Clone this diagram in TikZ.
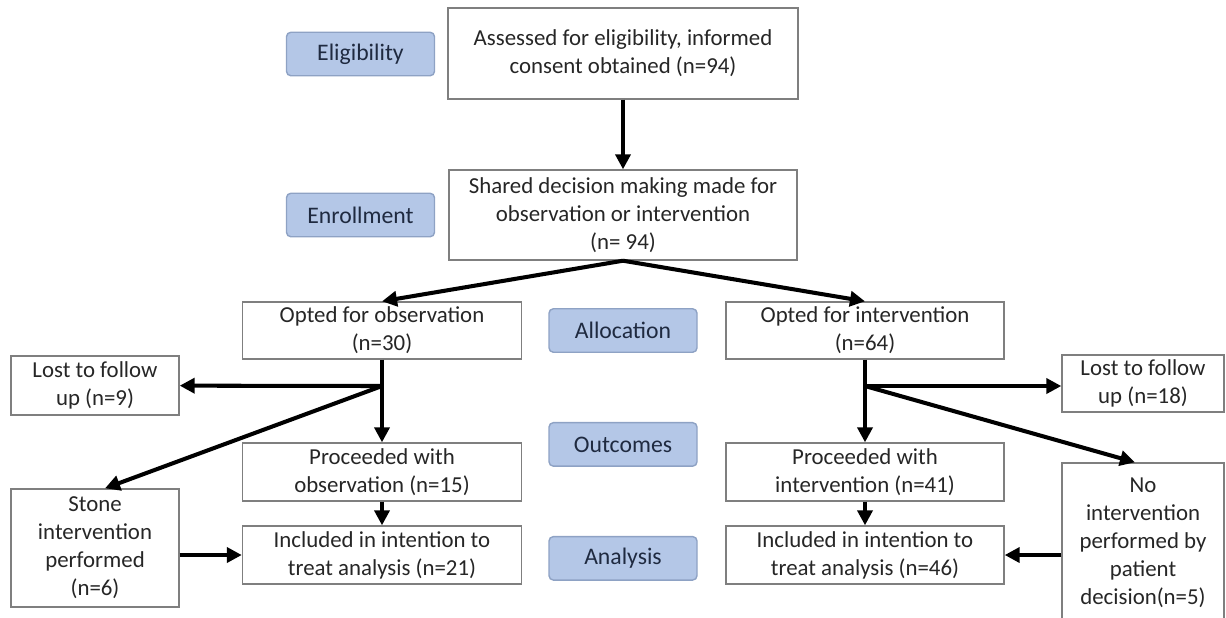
\documentclass[tikz,border=0pt]{standalone}
\usepackage{fontspec}
\setmainfont{Carlito}
\usepackage{xcolor}
\usepackage{tikz}
\usetikzlibrary{arrows.meta, calc, positioning}

\definecolor{stagefill}{HTML}{B4C7E7}
\definecolor{stageline}{HTML}{8EA2C4}
\definecolor{stagetext}{HTML}{1F2A40}
\definecolor{boxline}{HTML}{7F7F7F}

\begin{document}
\begin{tikzpicture}[>={Triangle[length=3mm,width=3mm]},
   box/.style={draw=boxline,line width=0.8pt,fill=white,align=center,inner sep=0pt,
     text=black!85,font=\fontsize{13}{15.9}\selectfont},
   stage/.style={draw=stageline,line width=0.8pt,fill=stagefill,rounded corners=2.5pt,
     minimum width=2.96cm,minimum height=0.87cm,inner sep=0pt,text=stagetext,
     font=\fontsize{13.5}{16}\selectfont},
   flow/.style={->,line width=2.3pt,black}]
  \useasboundingbox (0,0) rectangle (24.52,-12.34);
  % main column
  \node[box,minimum width=7.0cm,minimum height=1.82cm] (assess) at (12.46,-1.07)
    {Assessed for eligibility, informed\\consent obtained (n=94)};
  \node[box,minimum width=6.96cm,minimum height=1.8cm] (share) at (12.46,-4.30)
    {Shared decision making made for\\observation or intervention\\(n= 94)};
  % stage labels
  \node[stage] (elig) at (7.21,-1.08) {Eligibility};
  \node[stage] (enrol) at (7.21,-4.30) {Enrollment};
  \node[stage] (alloc) at (12.46,-6.61) {Allocation};
  \node[stage,below=1.38cm of alloc] (outc) {Outcomes};
  \node[stage,below=1.38cm of outc] (anal) {Analysis};
  % observation arm
  \node[box,minimum width=5.58cm,minimum height=1.14cm] (obs) at (7.64,-6.61)
    {Opted for observation\\(n=30)};
  \node[box,minimum width=5.58cm,minimum height=1.16cm] (procObs) at (7.64,-9.44)
    {Proceeded with\\observation (n=15)};
  \node[box,minimum width=5.58cm,minimum height=1.16cm] (inclObs) at (7.64,-11.10)
    {Included in intention to\\treat analysis (n=21)};
  \node[box,minimum width=3.36cm,minimum height=1.18cm] (lostL) at (1.90,-7.71)
    {Lost to follow\\up (n=9)};
  \node[box,minimum width=3.36cm,minimum height=2.36cm] (stone) at (1.90,-10.96)
    {Stone\\intervention\\performed\\(n=6)};
  % intervention arm
  \node[box,minimum width=5.56cm,minimum height=1.14cm] (int) at (17.30,-6.61)
    {Opted for intervention\\(n=64)};
  \node[box,minimum width=5.56cm,minimum height=1.16cm] (procInt) at (17.30,-9.44)
    {Proceeded with\\intervention (n=41)};
  \node[box,minimum width=5.56cm,minimum height=1.16cm] (inclInt) at (17.30,-11.10)
    {Included in intention to\\treat analysis (n=46)};
  \node[box,minimum width=3.24cm,minimum height=1.14cm] (lostR) at (22.86,-7.67)
    {Lost to follow\\up (n=18)};
  \node[box,minimum width=3.24cm,minimum height=3.2cm] (noint) at (22.86,-10.86)
    {No\\intervention\\performed by\\patient\\decision(n=5)};
  % branch points
  \coordinate (brL) at (obs.south |- 0,-7.72);
  \coordinate (brR) at (int.south |- 0,-7.72);
  % connectors
  \draw[flow] (assess) -- (share);
  \draw[flow] (share.south) -- (obs.north);
  \draw[flow] (share.south) -- (int.north);
  \draw[flow] (obs) -- (procObs);
  \draw[flow] (brL) -- (lostL);
  \draw[flow] (brL) -- ($(stone.north)+(0.2,0)$);
  \draw[flow] (procObs) -- (inclObs);
  \draw[flow] (stone.east |- inclObs) -- (inclObs);
  \draw[flow] (int) -- (procInt);
  \draw[flow] (brR) -- (brR -| lostR.west);
  \draw[flow] (brR) -- ($(noint.north)+(-0.16,0)$);
  \draw[flow] (procInt) -- (inclInt);
  \draw[flow] (noint.west |- inclInt) -- (inclInt);
\end{tikzpicture}
\end{document}
